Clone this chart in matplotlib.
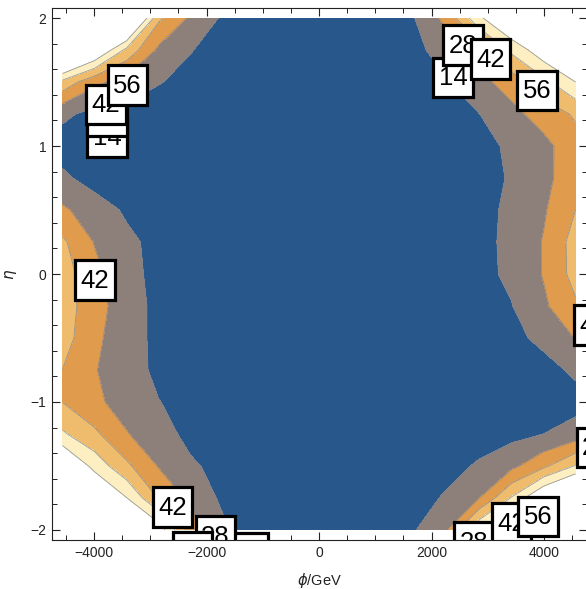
import numpy as np
import matplotlib.pyplot as plt
from matplotlib.patches import Rectangle

plt.rcParams['font.family'] = ['Liberation Sans', 'DejaVu Sans']
plt.rcParams['mathtext.fontset'] = 'dejavusans'

# grid nodes (phi in GeV, eta)
phi = [-4560, -3990, -3420, -2850, -2280, -1710, -1140, -570, 0,
       570, 1140, 1710, 2280, 2850, 3420, 3990, 4560]
eta = [2.0, 1.75, 1.5, 1.25, 1.0, 0.75, 0.5, 0.25, 0.0,
       -0.25, -0.5, -0.75, -1.0, -1.25, -1.5, -1.75, -2.0]

# values, one row per eta (top to bottom)
z_rows = [
    [160, 140, 114, 44.6, 25.5, 12, 9, 7, 6, 7, 9, 14.1, 33, 67, 92, 115, 140],
    [120, 89, 52, 25, 14.4, 10, 8, 6, 5, 6, 8, 11, 19.8, 32.9, 58.9, 80, 100],
    [52, 31.3, 21.9, 14.5, 11, 9, 7, 5, 4, 5, 7, 9, 13.2, 23.7, 34.3, 51.8, 70],
    [16.7, 10, 10, 9, 8, 7, 6, 5, 4, 4, 5, 7, 10, 13.8, 23.8, 33.9, 44],
    [8, 9, 8, 7, 6, 5, 4, 3.5, 3, 3.5, 4, 5, 7, 10, 16.2, 24.1, 36],
    [16.5, 8.5, 7, 6, 5, 4.5, 4, 3.5, 3, 3.5, 4, 5, 7, 10, 15, 23.8, 37],
    [30.3, 20.7, 12, 9, 7, 5, 4, 3.5, 3, 3.5, 4, 5, 7, 10, 16.6, 26.3, 42],
    [44.5, 27.2, 17, 10, 7, 5, 4, 3.5, 3, 3.5, 4, 5, 7, 10, 17.3, 28.8, 47.6],
    [49, 31.6, 19.5, 9, 7, 5, 4, 3.5, 3, 3.5, 4, 5, 7, 10, 16.7, 28.8, 47],
    [49, 33.4, 20.6, 10.2, 7, 5, 4, 3.5, 3, 3.5, 4, 5, 7, 9.5, 13.4, 25.5, 40],
    [48, 31, 20, 10.5, 7, 5, 4, 3.5, 3, 3.5, 4, 5, 6, 8, 10, 17.6, 28.5],
    [41.8, 28.8, 20, 11, 7, 5, 4, 3.5, 3, 3.5, 4, 5, 6, 7, 8, 9, 16.6],
    [41.8, 30.8, 22.2, 14.3, 10, 6, 4.5, 3.5, 3, 3.5, 4, 5, 6, 6.5, 7, 7.5, 9],
    [58, 44.9, 28.8, 19.4, 10.2, 6, 4.5, 3.5, 3, 3.5, 4, 5, 6, 7, 10, 14, 19.7],
    [91, 65, 44.9, 27, 15.8, 10, 6, 4, 3.5, 4, 5, 6.5, 9, 15.9, 24.2, 39, 57],
    [115, 92.6, 70.3, 41, 24.2, 11.4, 7, 5, 4, 4.5, 5.5, 8, 16, 27.8, 57, 88, 110],
    [150, 125, 100, 78.7, 34.4, 16.6, 8, 6, 5, 5.5, 7, 13.5, 28, 69.5, 100, 125, 150],
]

levels = [0, 14, 28, 42, 56, 70]
band_colors = ['#28588b', '#8d7f79', '#e09b4c', '#efbb6d', '#fdefc1']

# contour labels (drawn in this order, later on top)
lab_text = ['14', '28', '42', '56',
            '14', '28', '42', '56',
            '42', '42', '28',
            '42', '56', '28', '14',
            '28', '42', '56']
lab_phi = [-3769, -3769, -3787, -3404,
           2382, 2560, 3049, 3876,
           -3982, 4880, 4933,
           -2604, -1253, -1840, -2249,
           2756, 3422, 3893]
lab_eta = [1.070, 1.234, 1.324, 1.477,
           1.535, 1.789, 1.680, 1.434,
           -0.047, -0.398, -1.355,
           -1.820, -2.180, -2.047, -2.172,
           -2.094, -1.945, -1.895]
box_w, box_h = 700, 0.31   # label box size in data units

X, Y = np.meshgrid(phi, eta)
Z = np.array(z_rows)

fig = plt.figure(figsize=(5.86, 5.89), dpi=100)
ax = fig.add_axes([52 / 586, 1 - 540.2 / 589, 535 / 586, 532.4 / 589])

ax.contourf(X, Y, Z, levels=levels, colors=band_colors)
ax.contour(X, Y, Z, levels=levels[1:], colors='#7d8796', linewidths=0.6, alpha=0.8)

for i, (t, px, py) in enumerate(zip(lab_text, lab_phi, lab_eta)):
    ax.add_patch(Rectangle((px - box_w / 2, py - box_h / 2), box_w, box_h,
                           fc='white', ec='black', lw=2.3, zorder=5 + 2 * i))
    ax.text(px, py - 0.005, t, fontsize=18.5, ha='center', va='center',
            clip_on=True, zorder=6 + 2 * i)

ax.set_xlim(-4747, 4764)
ax.set_ylim(-2.08, 2.08)

ax.set_xticks([-4000, -2000, 0, 2000, 4000])
ax.set_xticks(np.arange(-4500, 4501, 500), minor=True)
ax.set_yticks([-2, -1, 0, 1, 2])
ax.set_yticks(np.arange(-2, 2.01, 0.2), minor=True)
ax.tick_params(which='both', direction='in', top=True, right=True,
               labelsize=10, pad=4, color='#222222', labelcolor='#222222')
ax.tick_params(which='major', length=5.5, width=0.8)
ax.tick_params(which='minor', length=3.5, width=0.7)
for s in ax.spines.values():
    s.set_linewidth(0.8)
    s.set_color('#222222')
    s.set_zorder(50)

ax.set_xlabel(r'$\phi$/GeV', fontsize=10.5, color='#222222')
ax.xaxis.set_label_coords(0.499, -0.058)
ax.set_ylabel(r'$\eta$', fontsize=11, color='#222222')
ax.yaxis.set_label_coords(-0.062, 0.5)

fig.savefig('out.png', dpi=100)
